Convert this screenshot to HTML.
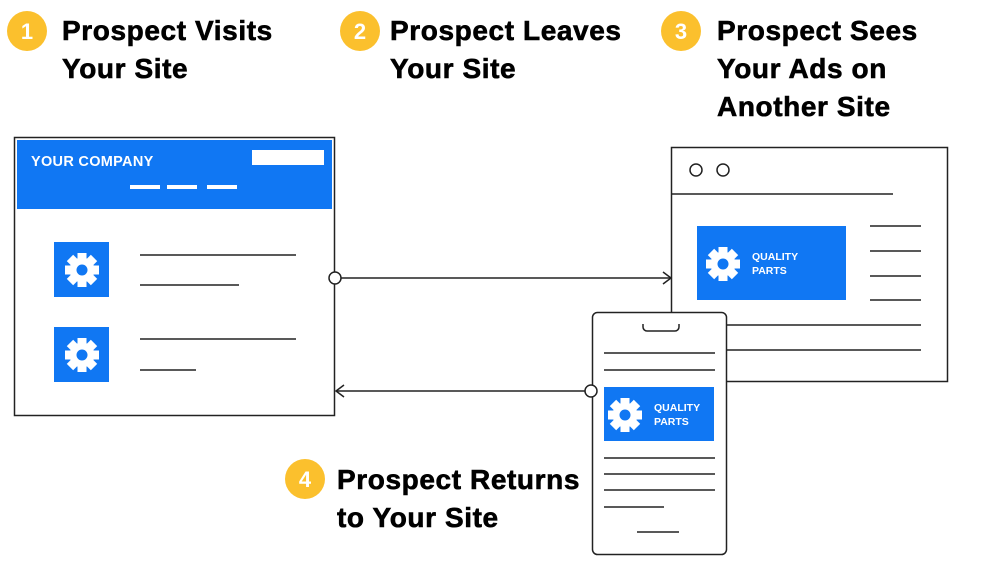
<!DOCTYPE html>
<html><head><meta charset="utf-8"><style>
html,body{margin:0;padding:0;background:#fff}
svg{display:block}
.h{font-family:"Liberation Sans",sans-serif;font-weight:bold;font-size:28px;fill:#000;stroke:#000;stroke-width:0.6;letter-spacing:0.6px}
.n{font-family:"Liberation Sans",sans-serif;font-weight:bold;font-size:22px;fill:#fff}
.w{font-family:"Liberation Sans",sans-serif;font-weight:bold;fill:#fff}
</style></head><body>
<svg width="1000" height="584" viewBox="0 0 1000 584" xmlns="http://www.w3.org/2000/svg">
<defs>
<g id="gear">
<g fill="#fff">
<circle r="12.5"/>
<rect x="-4.5" y="-17" width="9" height="34"/>
<rect x="-4.5" y="-17" width="9" height="34" transform="rotate(45)"/>
<rect x="-4.5" y="-17" width="9" height="34" transform="rotate(90)"/>
<rect x="-4.5" y="-17" width="9" height="34" transform="rotate(135)"/>
</g>
<circle r="5.5" fill="#1077f3"/>
</g>
</defs>

<!-- headings -->
<circle cx="27" cy="31" r="20" fill="#fbc02d"/><text class="n" x="27" y="39" text-anchor="middle">1</text>
<text class="h" x="62" y="40">Prospect Visits</text><text class="h" x="62" y="78">Your Site</text>
<circle cx="360" cy="31" r="20" fill="#fbc02d"/><text class="n" x="360" y="39" text-anchor="middle">2</text>
<text class="h" x="390" y="40">Prospect Leaves</text><text class="h" x="390" y="78">Your Site</text>
<circle cx="681" cy="31" r="20" fill="#fbc02d"/><text class="n" x="681" y="39" text-anchor="middle">3</text>
<text class="h" x="717" y="40">Prospect Sees</text><text class="h" x="717" y="78">Your Ads on</text><text class="h" x="717" y="116">Another Site</text>
<circle cx="305" cy="479" r="20" fill="#fbc02d"/><text class="n" x="305" y="487" text-anchor="middle">4</text>
<text class="h" x="337" y="489">Prospect Returns</text><text class="h" x="337" y="527">to Your Site</text>

<g stroke="#222" stroke-width="1.5" fill="none">
<rect x="14.5" y="137.5" width="320" height="278" fill="#fff"/>
</g>
<rect x="17" y="140" width="315" height="69" fill="#1077f3"/>
<text class="w" x="31" y="166" font-size="14.5" letter-spacing="0.3">YOUR COMPANY</text>
<rect x="252" y="150" width="72" height="15" fill="#fff"/>
<rect x="130" y="185" width="30" height="4" fill="#fff"/>
<rect x="167" y="185" width="30" height="4" fill="#fff"/>
<rect x="207" y="185" width="30" height="4" fill="#fff"/>
<rect x="54" y="242" width="55" height="55" fill="#1077f3"/>
<use href="#gear" x="82" y="270"/>
<rect x="54" y="327" width="55" height="55" fill="#1077f3"/>
<use href="#gear" x="82" y="355"/>
<g stroke="#222" stroke-width="1.5">
<line x1="140" y1="255" x2="296" y2="255"/>
<line x1="140" y1="285" x2="239" y2="285"/>
<line x1="140" y1="339" x2="296" y2="339"/>
<line x1="140" y1="370" x2="196" y2="370"/>
</g>

<g stroke="#222" stroke-width="1.5" fill="none">
<rect x="671.5" y="147.5" width="276" height="234" fill="#fff"/>
<circle cx="696" cy="170" r="6"/><circle cx="723" cy="170" r="6"/>
<line x1="671" y1="194" x2="893" y2="194"/>
<line x1="870" y1="226" x2="921" y2="226"/>
<line x1="870" y1="251" x2="921" y2="251"/>
<line x1="870" y1="276" x2="921" y2="276"/>
<line x1="870" y1="300" x2="921" y2="300"/>
<line x1="700" y1="325" x2="921" y2="325"/>
<line x1="700" y1="350" x2="921" y2="350"/>
</g>
<rect x="697" y="226" width="149" height="74" fill="#1077f3"/>
<use href="#gear" x="723" y="264"/>
<text class="w" x="752" y="260" font-size="10.5">QUALITY</text>
<text class="w" x="752" y="274" font-size="10.5">PARTS</text>

<g stroke="#222" stroke-width="1.5" fill="none">
<line x1="341" y1="278" x2="671" y2="278"/>
<polyline points="663,272 671,278 663,284"/>
<circle cx="335" cy="278" r="6" fill="#fff"/>
</g>

<g stroke="#222" stroke-width="1.5" fill="none">
<rect x="592.5" y="312.5" width="134" height="242" rx="5" fill="#fff"/>
<path d="M643 324 v3 a4 4 0 0 0 4 4 h28 a4 4 0 0 0 4 -4 v-3"/>
<line x1="604" y1="353" x2="715" y2="353"/>
<line x1="604" y1="370" x2="715" y2="370"/>
<line x1="604" y1="458" x2="715" y2="458"/>
<line x1="604" y1="474" x2="715" y2="474"/>
<line x1="604" y1="490" x2="715" y2="490"/>
<line x1="604" y1="507" x2="664" y2="507"/>
<line x1="637" y1="532" x2="679" y2="532"/>
</g>
<rect x="604" y="387" width="110" height="54" fill="#1077f3"/>
<use href="#gear" x="625" y="415"/>
<text class="w" x="654" y="411" font-size="10.5">QUALITY</text>
<text class="w" x="654" y="425" font-size="10.5">PARTS</text>

<g stroke="#222" stroke-width="1.5" fill="none">
<line x1="336" y1="391" x2="585" y2="391"/>
<polyline points="344,385 336,391 344,397"/>
<circle cx="591" cy="391" r="6" fill="#fff"/>
</g>
</svg>
</body></html>
